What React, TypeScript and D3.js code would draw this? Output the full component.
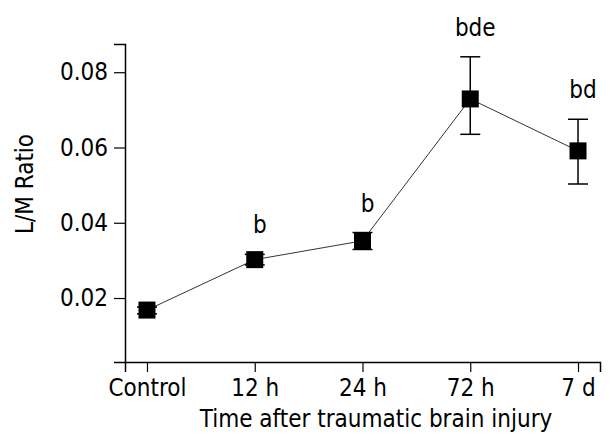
import * as d3 from 'd3'
import { useEffect, useRef } from 'react'

const categories = ['Control', '12 h', '24 h', '72 h', '7 d']
const means = [0.0168, 0.0302, 0.0352, 0.0729, 0.0591]
const upper = [0.0176, 0.0316, 0.0374, 0.0841, 0.0675]
const lower = [0.0158, 0.0288, 0.0329, 0.0635, 0.0503]
const letters = ['', 'b', 'b', 'bde', 'bd']
const yTicks = [0.02, 0.04, 0.06, 0.08]

const WIDTH = 610
const HEIGHT = 444
const MARGIN = { TOP: 44, RIGHT: 10, BOTTOM: 82, LEFT: 125 }
const FONT = '"DejaVu Sans Condensed", "DejaVu Sans", sans-serif'
const FS = 24

const drawChart = (node: SVGSVGElement) => {
  const svg = d3.select(node)
  svg.selectAll('*').remove()

  const x = d3.scalePoint()
    .domain(categories)
    .range([MARGIN.LEFT, WIDTH - MARGIN.RIGHT])
    .padding(0.204)

  const y = d3.scaleLinear()
    .domain([0.003, 0.0875])
    .range([HEIGHT - MARGIN.BOTTOM, MARGIN.TOP])

  const xAxis = svg.append('g')
    .attr('transform', `translate(0,${HEIGHT - MARGIN.BOTTOM})`)
    .call(d3.axisBottom(x).tickSizeOuter(0).tickSize(10).tickPadding(7))
  xAxis.select('.domain').attr('stroke-width', 1.5)
  xAxis.selectAll('.tick line').attr('stroke-width', 1.2)
  xAxis.selectAll('text')
    .attr('font-family', FONT)
    .attr('font-size', FS)
    .attr('fill', '#000')

  const yAxis = svg.append('g')
    .attr('transform', `translate(${MARGIN.LEFT},0)`)
    .call(d3.axisLeft(y).tickValues(yTicks).tickFormat(d3.format('.2f')).tickSizeOuter(0).tickSize(11).tickPadding(6))
  yAxis.select('.domain').attr('stroke-width', 1.5)
  yAxis.selectAll('.tick line').attr('stroke-width', 1.2)
  yAxis.selectAll('text')
    .attr('font-family', FONT)
    .attr('font-size', FS)
    .attr('fill', '#000')

  svg.append('text')
    .attr('x', 376)
    .attr('y', 427)
    .attr('text-anchor', 'middle')
    .attr('font-family', FONT)
    .attr('font-size', FS)
    .text('Time after traumatic brain injury')

  svg.append('text')
    .attr('transform', `translate(33,${184}) rotate(-90)`)
    .attr('text-anchor', 'middle')
    .attr('font-family', FONT)
    .attr('font-size', FS)
    .text('L/M Ratio')

  const data = categories.map((c, i) => ({ c, m: means[i], hi: upper[i], lo: lower[i], label: letters[i] }))

  const line = d3.line<any>()
    .x(d => x(d.c) as number)
    .y(d => y(d.m))

  svg.append('path')
    .datum(data)
    .attr('d', line)
    .attr('fill', 'none')
    .attr('stroke', '#333')
    .attr('stroke-width', 1)

  const CAP = 10
  const err = svg.append('g').attr('stroke', '#000').attr('stroke-width', 1.5)
  data.forEach(d => {
    const cx = x(d.c) as number
    err.append('line').attr('x1', cx).attr('x2', cx).attr('y1', y(d.hi)).attr('y2', y(d.lo))
    err.append('line').attr('x1', cx - CAP).attr('x2', cx + CAP).attr('y1', y(d.hi)).attr('y2', y(d.hi))
    err.append('line').attr('x1', cx - CAP).attr('x2', cx + CAP).attr('y1', y(d.lo)).attr('y2', y(d.lo))
  })

  const S = 17
  svg.append('g')
    .selectAll('rect')
    .data(data)
    .join('rect')
    .attr('x', d => (x(d.c) as number) - S / 2)
    .attr('y', d => y(d.m) - S / 2)
    .attr('width', S)
    .attr('height', S)
    .attr('fill', '#000')

  svg.append('g')
    .selectAll('text')
    .data(data.filter(d => d.label))
    .join('text')
    .attr('x', d => (x(d.c) as number) + 5)
    .attr('y', d => y(d.hi) - 21)
    .attr('text-anchor', 'middle')
    .attr('font-family', FONT)
    .attr('font-size', FS)
    .text(d => d.label)
}

export default function App() {
  const ref = useRef<SVGSVGElement>(null)

  useEffect(() => {
    if (ref.current) drawChart(ref.current)
  }, [])

  return (
    <svg
      ref={ref}
      width={WIDTH}
      height={HEIGHT}
      style={{ position: 'absolute', left: 0, top: 0, background: '#fff' }}
    />
  )
}
